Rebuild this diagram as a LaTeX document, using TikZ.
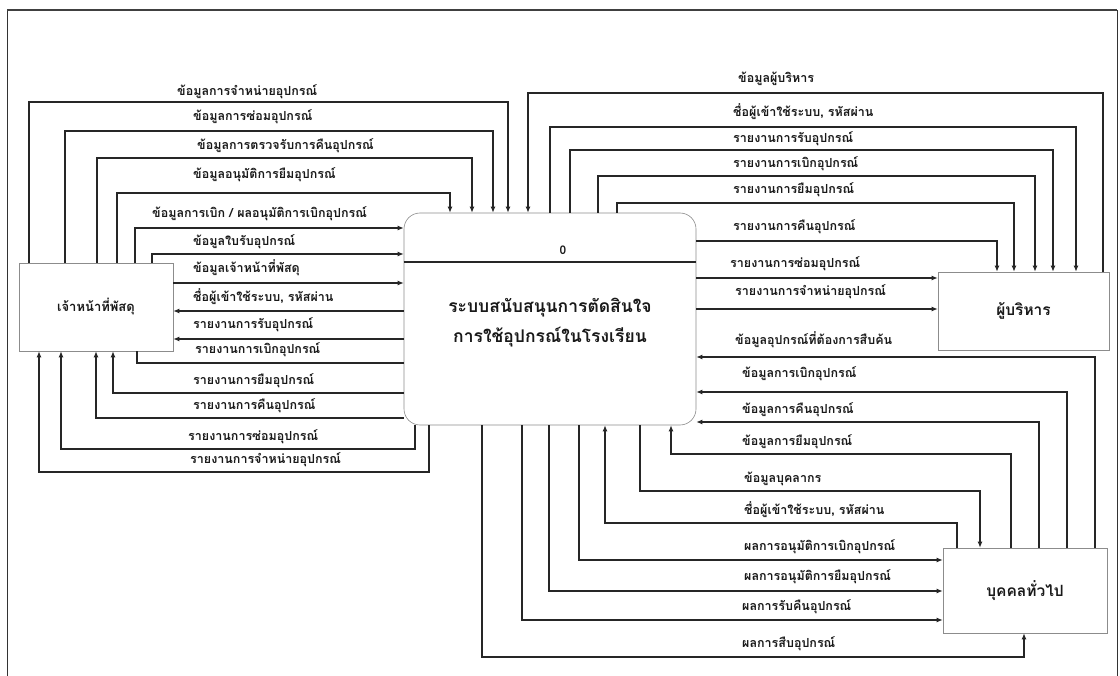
\documentclass[tikz,border=0pt]{standalone}
\usepackage{fontspec}
\newfontfamily\thai[Script=Thai]{Loma}
\usetikzlibrary{arrows.meta}
\tikzset{
  ln/.style={line width=1.1pt, draw=black!85},
  arr/.style={ln, -{Latex[length=6pt,width=5pt]}},
  lab/.style={font=\thai\bfseries\fontsize{12.5}{14}\selectfont, anchor=west, inner sep=0pt, text=black!90},
  entbox/.style={draw=black!45, line width=0.6pt, fill=white, inner sep=0pt},
  procbox/.style={draw=black!45, line width=0.6pt, fill=white, rounded corners=16pt, inner sep=0pt},
  bigtxt/.style={font=\thai\bfseries\fontsize{15.5}{22}\selectfont, inner sep=0pt, align=center, text=black!90}
}
\begin{document}
\begin{tikzpicture}[x=1pt,y=-1pt]
\useasboundingbox (0,0) rectangle (1120,676);
\fill[white] (0,0) rectangle (1120,676);
% frame
\draw[line width=0.9pt, black!80] (7,690) -- (7,10) -- (1117,10) -- (1117,690);
\draw[line width=2.2pt, black!75] (7,10) -- (1117,10);

% boxes
\node[entbox, minimum width=154pt, minimum height=88pt] (L) at (96,307) {};
\node[procbox, minimum width=292pt, minimum height=212pt] (P) at (550,319) {};
\node[entbox, minimum width=171pt, minimum height=78pt] (M) at (1023.5,311) {};
\node[entbox, minimum width=164pt, minimum height=85pt] (G) at (1025,590.5) {};
\node[bigtxt, font=\thai\bfseries\fontsize{13}{15}\selectfont] (Lt) at (L.center) {เจ้าหน้าที่พัสดุ};
\node[bigtxt] (Mt) at (M.center) {ผู้บริหาร};
\node[bigtxt] (Gt) at (G.center) {บุคคลทั่วไป};
\draw[ln] (P.west |- 0,262) -- (P.east |- 0,262);
\node[bigtxt, font=\thai\bfseries\fontsize{12}{14}\selectfont] (Pid) at (563,250) {0};
\node[bigtxt, font=\thai\bfseries\fontsize{17.5}{30}\selectfont] (Pt) at (550,323) {ระบบสนับสนุนการตัดสินใจ\\การใช้อุปกรณ์ในโรงเรียน};

% ---- left: L -> P top
\draw[arr] (L.north -| 29,0) |- (508,102) -- (P.north -| 508,0);
\node[lab] (a1) at (177,92) {ข้อมูลการจำหน่ายอุปกรณ์};
\draw[arr] (L.north -| 65,0) |- (493,131) -- (P.north -| 493,0);
\node[lab] (a2) at (193,117) {ข้อมูลการซ่อมอุปกรณ์};
\draw[arr] (L.north -| 97,0) |- (472,158) -- (P.north -| 472,0);
\node[lab] (a3) at (197,146) {ข้อมูลการตรวจรับการคืนอุปกรณ์};
\draw[arr] (L.north -| 117,0) |- (450,193) -- (P.north -| 450,0);
\node[lab] (a4) at (193,175) {ข้อมูลอนุมัติการยืมอุปกรณ์};
\draw[arr] (L.north -| 135,0) |- (P.west |- 0,228);
\node[lab] (a5) at (152,214) {ข้อมูลการเบิก / ผลอนุมัติการเบิกอุปกรณ์};
\draw[arr] (L.north -| 152,0) |- (P.west |- 0,254);
\node[lab] (a6) at (193,242) {ข้อมูลใบรับอุปกรณ์};
\draw[arr] (L.east |- 0,283) -- (P.west |- 0,283);
\node[lab] (a7) at (193,268) {ข้อมูลเจ้าหน้าที่พัสดุ};
% P -> L
\draw[arr] (P.west |- 0,311) -- (L.east |- 0,311);
\node[lab] (a8) at (193,297) {ชื่อผู้เข้าใช้ระบบ, รหัสผ่าน};
\draw[arr] (P.west |- 0,339) -- (L.east |- 0,339);
\node[lab] (a9) at (193,325) {รายงานการรับอุปกรณ์};
\draw[ln] (P.west |- 0,363) -| (L.south -| 137,0);
\node[lab] (a10) at (195,350) {รายงานการเบิกอุปกรณ์};
\draw[arr] (P.west |- 0,393) -| (L.south -| 113,0);
\node[lab] (a11) at (193,381) {รายงานการยืมอุปกรณ์};
\draw[arr] (P.west |- 0,418) -| (L.south -| 96,0);
\node[lab] (a12) at (193,406) {รายงานการคืนอุปกรณ์};
\draw[arr] (P.south -| 415,0) |- (61,449) -- (L.south -| 61,0);
\node[lab] (a13) at (188,437) {รายงานการซ่อมอุปกรณ์};
\draw[arr] (P.south -| 429,0) |- (39,472) -- (L.south -| 39,0);
\node[lab] (a14) at (190,460) {รายงานการจำหน่ายอุปกรณ์};

% ---- right top
\draw[arr] (M.north -| 1103,0) |- (528,93) -- (P.north -| 528,0);
\node[lab] (b1) at (738,79) {ข้อมูลผู้บริหาร};
\draw[arr] (P.north -| 550,0) |- (1076,127) -- (M.north -| 1076,0);
\node[lab] (b2) at (733,112) {ชื่อผู้เข้าใช้ระบบ, รหัสผ่าน};
\draw[arr] (P.north -| 570,0) |- (1053,150) -- (M.north -| 1053,0);
\node[lab] (b3) at (733,139) {รายงานการรับอุปกรณ์};
\draw[arr] (P.north -| 598,0) |- (1035,176) -- (M.north -| 1035,0);
\node[lab] (b4) at (733,164) {รายงานการเบิกอุปกรณ์};
\draw[arr] (P.north -| 617,0) |- (1014,203) -- (M.north -| 1014,0);
\node[lab] (b5) at (733,190) {รายงานการยืมอุปกรณ์};
\draw[arr] (P.east |- 0,241) -| (M.north -| 997,0);
\node[lab] (b6) at (733,227) {รายงานการคืนอุปกรณ์};
\draw[arr] (P.east |- 0,278) -- (M.west |- 0,278);
\node[lab] (b7) at (730,264) {รายงานการซ่อมอุปกรณ์};
\draw[arr] (P.east |- 0,309) -- (M.west |- 0,309);
\node[lab] (b8) at (735,292) {รายงานการจำหน่ายอุปกรณ์};

% ---- right bottom
\draw[arr] (G.north -| 1095,0) |- (P.east |- 0,357);
\node[lab] (c1) at (735,340) {ข้อมูลอุปกรณ์ที่ต้องการสืบค้น};
\draw[arr] (G.north -| 1067,0) |- (P.east |- 0,392);
\node[lab] (c2) at (742,374) {ข้อมูลการเบิกอุปกรณ์};
\draw[arr] (G.north -| 1039,0) |- (P.east |- 0,422);
\node[lab] (c3) at (742,410) {ข้อมูลการคืนอุปกรณ์};
\draw[arr] (G.north -| 1011,0) |- (671,454) -- (P.south -| 671,0);
\node[lab] (c4) at (742,442) {ข้อมูลการยืมอุปกรณ์};
\draw[arr] (P.south -| 640,0) |- (980,491) -- (G.north -| 980,0);
\node[lab] (c5) at (744,479) {ข้อมูลบุคลากร};
\draw[arr] (G.north -| 957,0) |- (605,523) -- (P.south -| 605,0);
\node[lab] (c6) at (744,510) {ชื่อผู้เข้าใช้ระบบ, รหัสผ่าน};
\draw[arr] (P.south -| 579,0) |- (G.west |- 0,560);
\node[lab] (c7) at (744,547) {ผลการอนุมัติการเบิกอุปกรณ์};
\draw[arr] (P.south -| 549,0) |- (G.west |- 0,591);
\node[lab] (c8) at (744,577) {ผลการอนุมัติการยืมอุปกรณ์};
\draw[arr] (P.south -| 522,0) |- (G.west |- 0,620);
\node[lab] (c9) at (742,607) {ผลการรับคืนอุปกรณ์};
\draw[arr] (P.south -| 482,0) |- (1024,657) -- (G.south -| 1024,0);
\node[lab] (c10) at (742,644) {ผลการสืบอุปกรณ์};
\end{tikzpicture}
\end{document}
